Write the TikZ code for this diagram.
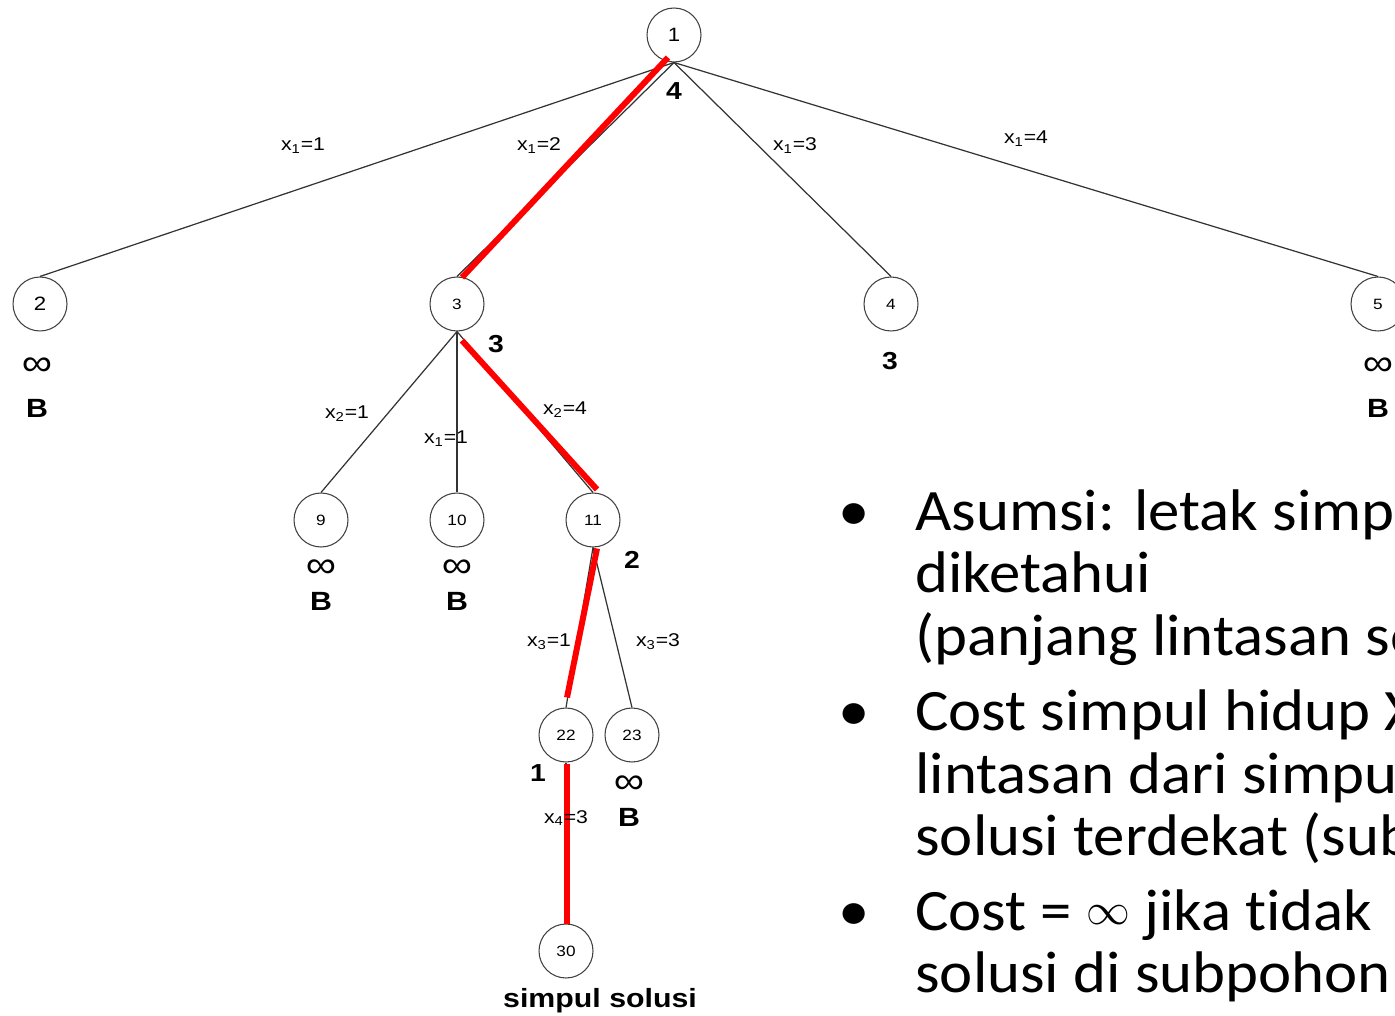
\documentclass[tikz,border=0pt]{standalone}
\usepackage{fontspec}
\setmainfont{Carlito}[FakeStretch=1.07,Ligatures={NoCommon,NoContextual}]
\newfontfamily\arial{Liberation Sans}[FakeStretch=1.15]
\usepackage{tikz}
\usetikzlibrary{calc,positioning}
\newcommand{\tak}{\raisebox{3pt}{\fontsize{30}{30}\selectfont$\infty$}}
\tikzset{
    simpul/.style={
    circle,draw=black!75,line width=0.6pt,minimum size=1.08cm,inner sep=0pt,font=\arial\fontsize{8.5}{9}\selectfont
    },
    cabang/.style={
    draw=black!80,line width=0.7pt
    },
    jalur/.style={
    draw=red,line width=3.4pt
    },
    xlabel/.style={
    font=\arial\fontsize{10.5}{11}\selectfont,inner sep=0pt
    },
    cost/.style={
    font=\arial\bfseries\fontsize{14}{15}\selectfont,inner sep=0pt
    },
    inf/.style={
    font=\arial\fontsize{21}{21}\selectfont,inner sep=0pt
    },
    mati/.style={
    font=\arial\bfseries\fontsize{15}{16}\selectfont,inner sep=0pt
    },
    poin/.style={
    anchor=base west,inner sep=0pt,font=\fontsize{33.4}{36}\selectfont
    },
}

\begin{document}
\begin{tikzpicture}[x=0.02cm, y=-0.02cm]
   \useasboundingbox (0,0) rectangle (1395,1016);
   \clip (0,0) rectangle (1395,1016);

   %level 0 and 1
   \node[simpul,font=\arial\fontsize{11}{12}\selectfont] (n1) at (674,35) {1};
   \node[simpul,font=\arial\fontsize{11}{12}\selectfont] (n2) at (40,304) {2};
   \node[simpul] (n3) at (457,304) {3};
   \node[simpul] (n4) at (891,304) {4};
   \node[simpul] (n5) at (1378,304) {5};

   %children of 3
   \node[simpul] (n9) at (321,520) {9};
   \node[simpul] (n10) at (457,520) {10};
   \node[simpul] (n11) at (593,520) {11};

   %children of 11
   \node[simpul] (n22) at (566,735) {22};
   \node[simpul] (n23) at (632,735) {23};

   %solution
   \node[simpul] (n30) at (566,951) {30};

   \path[cabang]
    (n1.south) edge (n2.north)
               edge (n3.north)
               edge (n4.north)
               edge (n5.north)
    (n3.south) edge (n9.north)
               edge (n10.north)
               edge (n11.north)
    (n11.south) edge (n22.north)
                edge (n23.north)
    (n22.south) edge (n30.north);

   %path to the solution node
   \draw[jalur] ($(n1.south)+(-6,-5)$) -- ($(n3.north)+(5,1)$);
   \draw[jalur] ($(n3.south)+(5,9)$) -- ($(n11.north)+(4,-3)$);
   \draw[jalur] ($(n11.south)+(4,1)$) -- ($(n22.north)+(1,-10)$);
   \draw[jalur] ($(n22.south)+(1,1)$) -- ($(n30.north)+(1,1)$);

   %edge labels
   \node[xlabel] (l12) at (303,146) {x\textsubscript{1}=1};
   \node[xlabel] (l13) at (539,146) {x\textsubscript{1}=2};
   \node[xlabel] (l14) at (795,146) {x\textsubscript{1}=3};
   \node[xlabel] (l15) at (1026,139) {x\textsubscript{1}=4};
   \node[xlabel] (l39) at (347,414) {x\textsubscript{2}=1};
   \node[xlabel] (l310) at (446,439) {x\textsubscript{1}=1};
   \node[xlabel] (l311) at (565,410) {x\textsubscript{2}=4};
   \node[xlabel] (l1122) at (549,642) {x\textsubscript{3}=1};
   \node[xlabel] (l1123) at (658,642) {x\textsubscript{3}=3};
   \node[xlabel] (l2230) at (566,818) {x\textsubscript{4}=3};

   %costs
   \node[cost] (c1) at (674,91) {4};
   \node[cost] (c3) at (496,344) {3};
   \node[cost] (c4) at (890,361) {3};
   \node[cost] (c11) at (632,560) {2};
   \node[cost] (c22) at (538,773) {1};

   %bounded nodes
   \foreach \nx/\ny/\gap/\nm in {37/367/41/2, 321/569/32/9, 457/569/32/10, 629/785/32/23, 1378/367/41/5}{
     \node[inf] (inf\nm) at (\nx,\ny) {∞};
     \node[mati] (b\nm) at (\nx,\ny+\gap) {B};
   }

   \node[mati] (solusi) at (600,1001) {simpul solusi};

   %bullets
   \foreach \by/\bn in {530/1, 730/2, 930/3}{
     \node[poin] (bul\bn) at (838,\by) {•};
   }
   \foreach \ty/\teks [count=\i] in {530/Asumsi: letak simpul, 592/diketahui, 655/(panjang lintasan solusi,
       730/Cost simpul hidup X, 793/lintasan dari simpul, 855/solusi terdekat (subpohon,
       930/Cost = \tak\ jika tidak, 992/solusi di subpohon}{
     \node[poin] (baris\i) at (915,\ty) {\teks};
   }
\end{tikzpicture}
\end{document}
